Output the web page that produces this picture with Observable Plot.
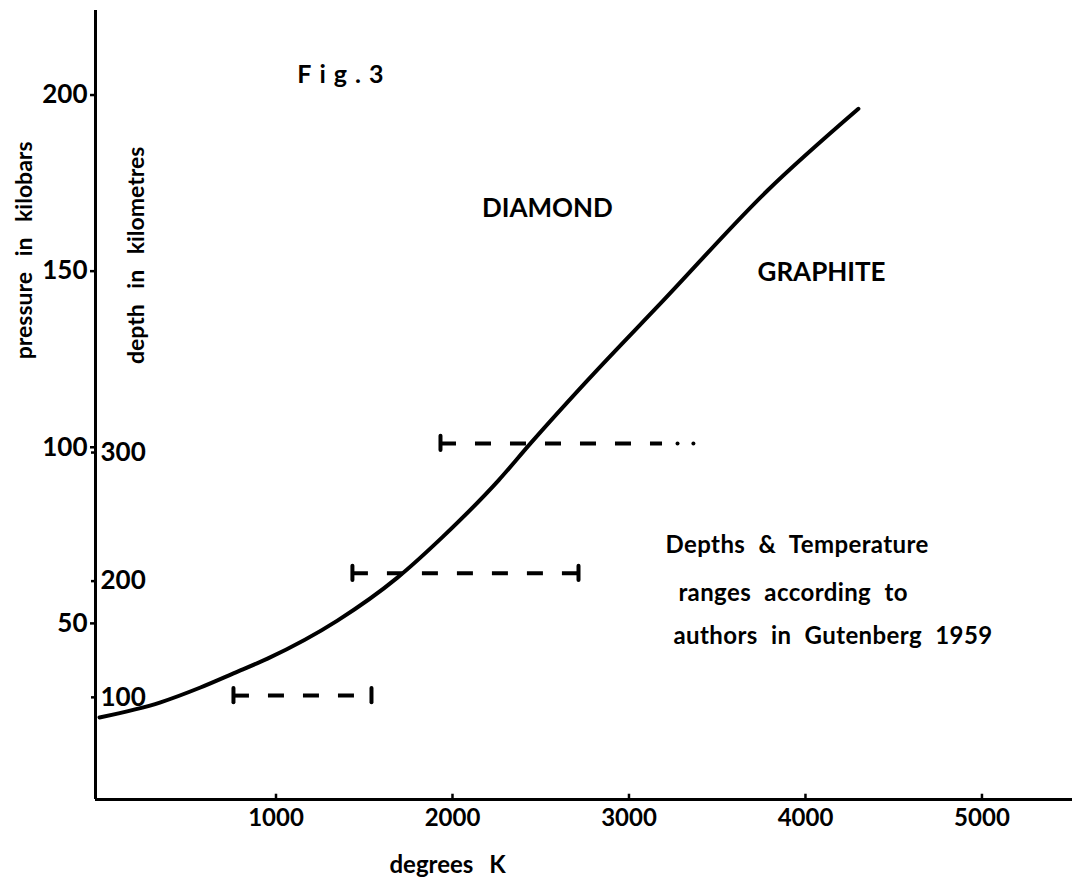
<!DOCTYPE html>
<html>
<head>
<meta charset="utf-8">
<script src="https://cdn.jsdelivr.net/npm/d3@7"></script>
<script src="https://cdn.jsdelivr.net/npm/@observablehq/plot@0.6"></script>
<style>
  html, body { margin: 0; padding: 0; background: #fff; }
</style>
</head>
<body>
<div id="chart"></div>
<script>
// ---- data ----
const tempTicks = [1000, 2000, 3000, 4000, 5000];          // degrees K
const pressureTicks = [50, 100, 150, 200];                // kilobars
const depthKm = [100, 200, 300];                          // km labels
const depthPressure = [29, 62, 98.5];                     // kbar at which each depth sits

// diamond / graphite equilibrium curve
const curveT = [0, 346, 572, 759, 952, 1348, 1688, 1943, 2261, 2442, 2765, 3195, 3785, 4300];
const curveP = [23.3, 27.6, 31.8, 35.8, 40.0, 50.8, 63.0, 74.5, 90.6, 101.1, 119.0, 141.7, 172.9, 196.1];

// temperature ranges at depth (Gutenberg 1959)
const rangeDepth = [100, 200, 300];
const rangeP = [29.5, 64.2, 101.1];
const rangeTmin = [759, 1433, 1932];
const rangeTmax = [1541, 2714, 3190];
const rangeClosedEnd = [true, true, false];
const uncertainT = [3275, 3365];      // dotted continuation of the 300 km range

const noteLines = ["Depths & Temperature", "ranges according to", "authors in Gutenberg 1959"];

// ---- tables built from the arrays ----
const curve = curveT.map((t, i) => ({t, p: curveP[i]}));
const depth = depthKm.map((km, i) => ({km, p: depthPressure[i]}));
const ranges = rangeDepth.map((d, i) => ({depth: d, p: rangeP[i], t1: rangeTmin[i], t2: rangeTmax[i], closed: rangeClosedEnd[i]}));
const caps = ranges.flatMap(r => r.closed ? [{t: r.t1, p: r.p}, {t: r.t2, p: r.p}] : [{t: r.t1, p: r.p}]);
const uncertain = uncertainT.map(t => ({t, p: rangeP[2]}));

const X0 = -22.7, X1 = 5513;
const FONT = "Lato, 'Open Sans', sans-serif";

const chart = Plot.plot({
  width: 1072,
  height: 886,
  marginLeft: 95,
  marginRight: 0,
  marginTop: 10,
  marginBottom: 87,
  style: {fontFamily: FONT, fontWeight: "bold", background: "#fff", color: "#000"},
  x: {domain: [X0, X1]},
  y: {domain: [0, 224]},
  marks: [
    // axis lines
    Plot.ruleX([X0], {stroke: "#000", strokeWidth: 3}),
    Plot.ruleY([0], {stroke: "#000", strokeWidth: 3}),
    // x ticks (pointing up) and labels
    Plot.ruleX(tempTicks, {y1: 0, y2: 1.5, stroke: "#000", strokeWidth: 2.5}),
    Plot.axisX({ticks: tempTicks, tickSize: 0, tickPadding: 9, fontSize: 24, label: null, tickFormat: d => String(d)}),
    // pressure axis
    Plot.axisY({ticks: pressureTicks, tickSize: 5, tickPadding: 3, fontSize: 26, label: null, strokeWidth: 2.5}),
    // depth ticks + labels
    Plot.axisY({ticks: depthPressure, tickSize: 4, tickFormat: () => "", label: null, strokeWidth: 2.5}),
    Plot.text(depth, {x: X0, y: "p", text: d => String(d.km), textAnchor: "start", dx: 5, fontSize: 26}),
    // equilibrium curve
    Plot.line(curve, {x: "t", y: "p", curve: "monotone-x", stroke: "#000", strokeWidth: 4, strokeLinecap: "round"}),
    // dashed temperature ranges
    Plot.ruleY(ranges, {y: "p", x1: "t1", x2: "t2", stroke: "#000", strokeWidth: 4, strokeDasharray: "16,19"}),
    Plot.ruleX(caps, {x: "t", y1: d => d.p - 2, y2: d => d.p + 2, stroke: "#000", strokeWidth: 4, strokeLinecap: "round"}),
    Plot.dot(uncertain, {x: "t", y: "p", r: 2, fill: "#000", stroke: null}),
    // annotations
    Plot.text(["Fig.3"], {x: 1365, y: 205.8, fontSize: 25}),
    Plot.text(["DIAMOND"], {x: 2538, y: 167.8, fontSize: 26}),
    Plot.text(["GRAPHITE"], {x: 4091, y: 149.6, fontSize: 26}),
    Plot.text([noteLines[0]], {x: 3207, y: 72.1, textAnchor: "start", fontSize: 24}),
    Plot.text([noteLines[1]], {x: 3280, y: 58.5, textAnchor: "start", fontSize: 24}),
    Plot.text([noteLines[2]], {x: 3252, y: 46.3, textAnchor: "start", fontSize: 24}),
    // axis titles
    Plot.text(["degrees K"], {x: 1972, y: 0, dy: 66, fontSize: 24}),
    Plot.text(["pressure in kilobars"], {x: X0, y: 155.9, dx: -71, rotate: -90, fontSize: 23}),
    Plot.text(["depth in kilometres"], {x: X0, y: 154.5, dx: 41, rotate: -90, fontSize: 23})
  ]
});
// typographic spacing of the original lettering
const titles = new Set(["degrees K", "pressure in kilobars", "depth in kilometres"]);
const notes = new Set(noteLines);
d3.select(chart).selectAll("text").each(function () {
  const s = this.textContent;
  if (s === "Fig.3") {
    this.style.letterSpacing = "8px";
    this.setAttribute("dx", "4");
  } else if (notes.has(s)) {
    this.style.wordSpacing = "7px";
    this.style.letterSpacing = "0.4px";
  } else if (titles.has(s)) {
    this.style.wordSpacing = "10px";
  }
});
document.getElementById("chart").appendChild(chart);
</script>
</body>
</html>
